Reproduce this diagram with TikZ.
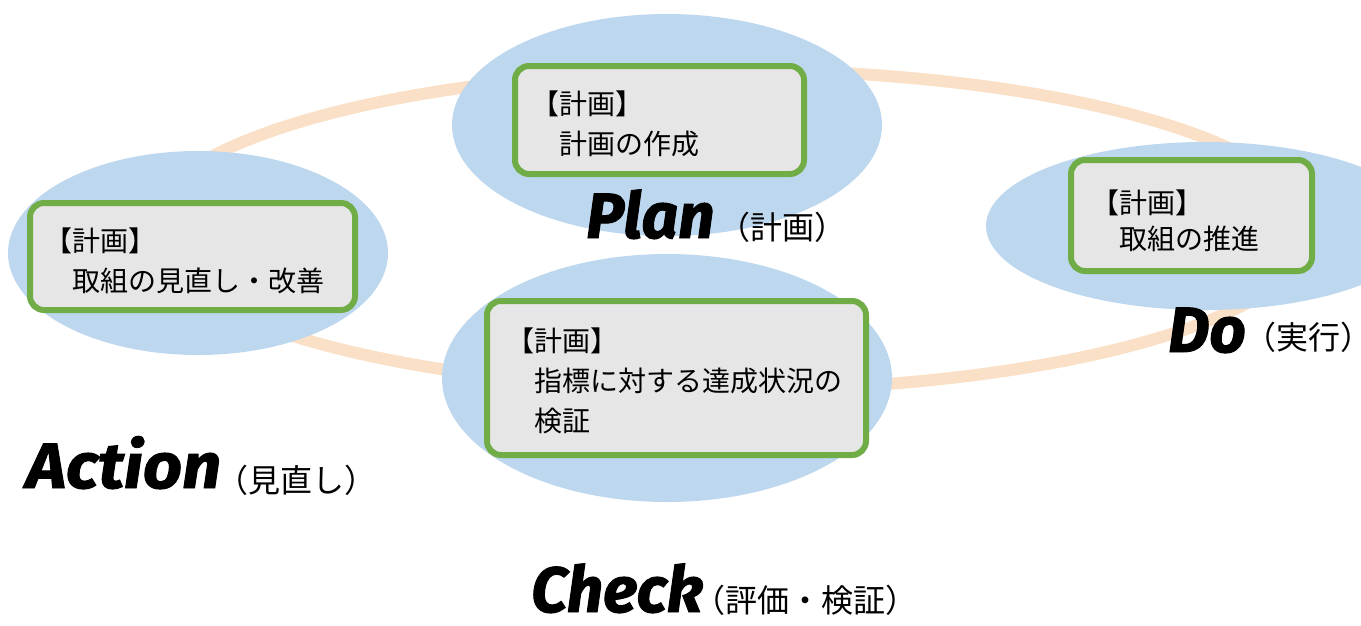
\documentclass[tikz,border=0pt]{standalone}
\usepackage{fontspec}
\newfontfamily\jp{Noto Sans CJK JP}
\newfontfamily\pdca[FakeBold=1.5]{Fira Sans}
\definecolor{ringc}{RGB}{251,224,200}
\definecolor{bluec}{RGB}{189,215,238}
\definecolor{greenc}{RGB}{112,173,71}
\definecolor{boxc}{RGB}{231,230,230}
\tikzset{
  gbox/.style={draw=greenc, line width=6pt, fill=boxc, rounded corners=14pt},
  jtxt/.style={anchor=base west, inner sep=0, font=\jp\fontsize{28}{36}\selectfont},
  jlab/.style={anchor=base west, inner sep=0, font=\jp\fontsize{32}{36}\selectfont},
  big/.style={anchor=base west, inner sep=0, font=\pdca\bfseries\itshape\fontsize{64}{70}\selectfont},
}
\begin{document}
\begin{tikzpicture}[x=1pt,y=-1pt]
\useasboundingbox (0,0) rectangle (1361,625);
\clip (0,0) rectangle (1361,625);
% ring
\draw[ringc, line width=12pt] (729,230) ellipse [x radius=582, y radius=160];
% blue ellipses
\fill[bluec] (667,125) ellipse [x radius=215, y radius=111];
\fill[bluec] (198,253) ellipse [x radius=190, y radius=102];
\fill[bluec] (1205,226) ellipse [x radius=219, y radius=84];
\fill[bluec] (667,378) ellipse [x radius=225, y radius=124];
% boxes
\draw[gbox] (515,66) rectangle (804,174);
\draw[gbox] (30,203) rectangle (355,310);
\draw[gbox] (1071,160) rectangle (1312,271);
\draw[gbox] (487,301) rectangle (866,455);
% texts
\node[jtxt] (p1) at (531,114) {【計画】};
\node[jtxt] (p2) at (531,154) {　計画の作成};
\node[jtxt] (a1) at (44,251) {【計画】};
\node[jtxt] (a2) at (44,291) {　取組の見直し・改善};
\node[jtxt] (d1) at (1091,213) {【計画】};
\node[jtxt] (d2) at (1091,249) {　取組の推進};
\node[jtxt] (c1) at (506,351) {【計画】};
\node[jtxt] (c2) at (506,391) {　指標に対する達成状況の};
\node[jtxt] (c3) at (506,431) {　検証};
% labels
\node[big] (plan) at (586,238) {Plan};
\node[jlab] (planj) at (718,239) {（計画）};
\node[big] (do) at (1168,352) {Do};
\node[jlab] (doj) at (1244,349) {（実行）\kern-14pt};
\node[big, xscale=1.07] (act) at (26,488) {Action};
\node[jlab] (actj) at (216,492) {（見直し）};
\node[big] (chk) at (531,612) {Check};
\node[jlab] (chkj) at (693,612) {（評価・検証）};
\end{tikzpicture}
\end{document}
